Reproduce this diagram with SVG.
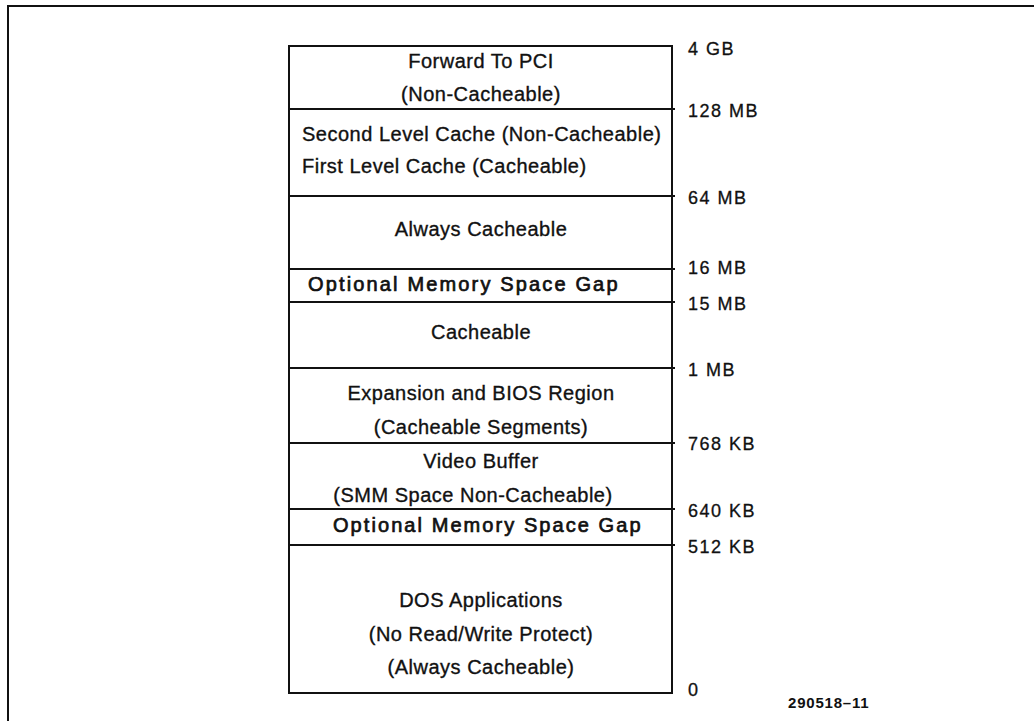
<svg xmlns="http://www.w3.org/2000/svg" width="1034" height="721" viewBox="0 0 1034 721">
<style>
.t{font-family:"Liberation Sans",Arial,sans-serif;font-size:20px;letter-spacing:0.5px;fill:#111;stroke:#111;stroke-width:0.35px}
.c{text-anchor:middle}
.g{stroke-width:0.7px}
.lbl{font-family:"Liberation Sans",Arial,sans-serif;font-size:18px;letter-spacing:1.5px;fill:#111;stroke:#111;stroke-width:0.3px}
.ln{stroke:#111;stroke-width:2;fill:none}
</style>
<rect width="1034" height="721" fill="#fff"/>
<path class="ln" d="M8,721 V6 H1034"/>
<rect class="ln" x="289" y="46" width="383" height="647"/>
<g id="connectors">
<line class="ln" x1="289" y1="109" x2="675" y2="109"/>
<line class="ln" x1="289" y1="196" x2="675" y2="196"/>
<line class="ln" x1="289" y1="269" x2="675" y2="269"/>
<line class="ln" x1="289" y1="302" x2="675" y2="302"/>
<line class="ln" x1="289" y1="368" x2="675" y2="368"/>
<line class="ln" x1="289" y1="443" x2="675" y2="443"/>
<line class="ln" x1="289" y1="509" x2="675" y2="509"/>
<line class="ln" x1="289" y1="545" x2="675" y2="545"/>
</g>
<g id="pci"><text class="t c" x="481" y="68">Forward To PCI</text><text class="t c" x="481" y="101">(Non-Cacheable)</text></g>
<g id="cache"><text class="t" x="302" y="141">Second Level Cache (Non-Cacheable)</text><text class="t" x="302" y="173">First Level Cache (Cacheable)</text></g>
<g id="always"><text class="t c" x="481" y="236">Always Cacheable</text></g>
<g id="gap1"><text class="t g" x="308" y="291" textLength="310" lengthAdjust="spacing">Optional Memory Space Gap</text></g>
<g id="cacheable"><text class="t c" x="481" y="339">Cacheable</text></g>
<g id="bios"><text class="t c" x="481" y="400">Expansion and BIOS Region</text><text class="t c" x="481" y="434">(Cacheable Segments)</text></g>
<g id="video"><text class="t c" x="481" y="468">Video Buffer</text><text class="t c" x="473" y="502">(SMM Space Non-Cacheable)</text></g>
<g id="gap2"><text class="t g" x="333" y="532" textLength="308" lengthAdjust="spacing">Optional Memory Space Gap</text></g>
<g id="dos"><text class="t c" x="481" y="607">DOS Applications</text><text class="t c" x="481" y="641">(No Read/Write Protect)</text><text class="t c" x="481" y="674">(Always Cacheable)</text></g>
<g id="labels">
<text class="lbl" x="688" y="55">4 GB</text>
<text class="lbl" x="688" y="117">128 MB</text>
<text class="lbl" x="688" y="204">64 MB</text>
<text class="lbl" x="688" y="274">16 MB</text>
<text class="lbl" x="688" y="310">15 MB</text>
<text class="lbl" x="688" y="376">1 MB</text>
<text class="lbl" x="688" y="450">768 KB</text>
<text class="lbl" x="688" y="517">640 KB</text>
<text class="lbl" x="688" y="553">512 KB</text>
<text class="lbl" x="688" y="696">0</text>
<text x="788" y="708" style="font-family:'Liberation Sans',Arial,sans-serif;font-size:15px;font-weight:bold;letter-spacing:0.8px;fill:#111">290518–11</text>
</g>
</svg>
